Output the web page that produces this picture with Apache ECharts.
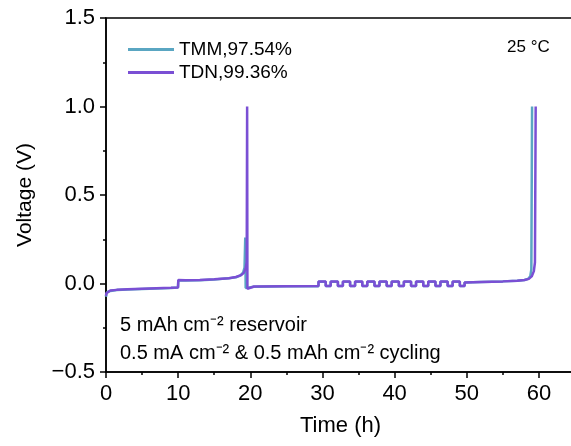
<!DOCTYPE html>
<html><head><meta charset="utf-8">
<script src="https://cdn.jsdelivr.net/npm/echarts@6/dist/echarts.min.js"></script>
<style>html,body{margin:0;padding:0;background:#fff}#c{width:571px;height:446px}</style>
</head><body><div id="c"></div>
<script>
// Time (h) and Voltage (V)
var tmmTime = [0,0.05,0.2,0.6,1.5,3,5,7,9,9.98,10.02,11,13,15,17,18,18.6,19.0,19.2,19.3,19.36,19.6,20.5,25,29.45,
  29.45,
  30.45,30.45,31.14,31.14,
  32.14,32.14,32.83,32.83,
  33.83,33.83,34.52,34.52,
  35.52,35.52,36.21,36.21,
  37.21,37.21,37.9,37.9,
  38.9,38.9,39.59,39.59,
  40.59,40.59,41.28,41.28,
  42.28,42.28,42.97,42.97,
  43.97,43.97,44.66,44.66,
  45.66,45.66,46.35,46.35,
  47.35,47.35,48.04,48.04,
  49.04,49.04,49.7,49.7,
  52,55,57,58,58.5,58.8,58.95,59.05];
var tmmVolt = [-0.075,-0.06,-0.048,-0.042,-0.037,-0.034,-0.031,-0.028,-0.025,-0.023,0.018,0.017,0.019,0.023,0.029,0.035,0.045,0.062,0.09,0.26,-0.025,-0.02,-0.018,-0.016,-0.015,
  0.01,
  0.01,-0.014,-0.014,0.01,
  0.01,-0.014,-0.014,0.01,
  0.01,-0.014,-0.014,0.01,
  0.01,-0.014,-0.014,0.01,
  0.01,-0.014,-0.014,0.01,
  0.01,-0.014,-0.014,0.01,
  0.01,-0.014,-0.014,0.01,
  0.01,-0.014,-0.014,0.01,
  0.01,-0.014,-0.014,0.01,
  0.01,-0.014,-0.014,0.01,
  0.01,-0.014,-0.014,0.01,
  0.01,-0.014,-0.014,0.005,
  0.008,0.012,0.016,0.02,0.026,0.04,0.08,1.0];
var tdnTime = [0,0.05,0.2,0.6,1.5,3,5,7,9,9.98,10.02,11,13,15,17,18,18.7,19.1,19.35,19.5,19.56,19.6,19.7,20.5,25,29.45,
  29.45,
  30.45,30.45,31.14,31.14,
  32.14,32.14,32.83,32.83,
  33.83,33.83,34.52,34.52,
  35.52,35.52,36.21,36.21,
  37.21,37.21,37.9,37.9,
  38.9,38.9,39.59,39.59,
  40.59,40.59,41.28,41.28,
  42.28,42.28,42.97,42.97,
  43.97,43.97,44.66,44.66,
  45.66,45.66,46.35,46.35,
  47.35,47.35,48.04,48.04,
  49.04,49.04,49.7,49.7,
  52,55,57,58,58.6,59.0,59.3,59.45,59.55];
var tdnVolt = [-0.07,-0.055,-0.045,-0.04,-0.036,-0.033,-0.03,-0.027,-0.024,-0.022,0.02,0.018,0.02,0.024,0.03,0.037,0.047,0.06,0.085,0.12,1.0,-0.03,-0.02,-0.017,-0.015,-0.014,
  0.011,
  0.011,-0.014,-0.014,0.011,
  0.011,-0.014,-0.014,0.011,
  0.011,-0.014,-0.014,0.011,
  0.011,-0.014,-0.014,0.011,
  0.011,-0.014,-0.014,0.011,
  0.011,-0.014,-0.014,0.011,
  0.011,-0.014,-0.014,0.011,
  0.011,-0.014,-0.014,0.011,
  0.011,-0.014,-0.014,0.011,
  0.011,-0.014,-0.014,0.011,
  0.011,-0.014,-0.014,0.011,
  0.011,-0.014,-0.014,0.005,
  0.008,0.012,0.016,0.02,0.026,0.04,0.07,0.12,1.0];
var seriesNames = ['TMM,97.54%','TDN,99.36%'];
var xTicks = [0,10,20,30,40,50,60];
var yTicks = [-0.5,0.0,0.5,1.0,1.5];

function pairs(t,v){var a=[];for(var i=0;i<t.length;i++)a.push([t[i],v[i]]);return a;}
var FONT='Liberation Sans';
var chart = echarts.init(document.getElementById('c'));
chart.setOption({
  animation:false,
  backgroundColor:'#fff',
  grid:{left:106,top:18,height:354,width:469,outerBoundsMode:'none',containLabel:false,show:true,borderColor:'#000',borderWidth:1.5,backgroundColor:'transparent'},
  legend:{left:123,top:35,orient:'vertical',itemWidth:46,itemHeight:3,itemGap:4,icon:'rect',
    textStyle:{fontFamily:FONT,fontSize:19,color:'#000'},
    data:seriesNames},
  xAxis:{type:'value',min:0,max:65,interval:10,
    name:'Time (h)',nameLocation:'middle',nameGap:43,nameTextStyle:{fontFamily:FONT,fontSize:22,color:'#000'},
    axisLine:{onZero:false,lineStyle:{color:'#000',width:1.5}},
    axisTick:{length:6,lineStyle:{color:'#000',width:1.5}},
    minorTick:{show:true,splitNumber:2,length:3,lineStyle:{color:'#000',width:1.5}},
    splitLine:{show:false},
    axisLabel:{fontFamily:FONT,fontSize:22,color:'#000',margin:11,
      formatter:function(v){return xTicks.indexOf(v)>=0?String(v):'';}}},
  yAxis:{type:'value',min:-0.5,max:1.5,interval:0.5,
    name:'Voltage (V)',nameLocation:'middle',nameGap:70,nameTextStyle:{fontFamily:FONT,fontSize:21,color:'#000'},
    axisLine:{show:true,onZero:false,lineStyle:{color:'#000',width:1.5}},
    axisTick:{show:true,length:6,lineStyle:{color:'#000',width:1.5}},
    minorTick:{show:true,splitNumber:2,length:3,lineStyle:{color:'#000',width:1.5}},
    splitLine:{show:false},
    axisLabel:{fontFamily:FONT,fontSize:22,color:'#000',margin:11,
      formatter:function(v){return v.toFixed(1).replace('-','\u2212');}}},
  series:[
    {name:seriesNames[0],type:'line',showSymbol:false,symbol:'none',data:pairs(tmmTime,tmmVolt),
      lineStyle:{color:'#5aa6c2',width:2.5},itemStyle:{color:'#5aa6c2'}},
    {name:seriesNames[1],type:'line',showSymbol:false,symbol:'none',data:pairs(tdnTime,tdnVolt),
      lineStyle:{color:'#7a4fd4',width:2.5},itemStyle:{color:'#7a4fd4'}}
  ],
  graphic:[
    {type:'text',left:507,top:39,style:{text:'25 \u00b0C',fontFamily:FONT,fontSize:17,fill:'#000'}},
    {type:'text',left:120,top:315,style:{text:'5 mAh cm\u207b\u00b2 reservoir',fontFamily:FONT,fontSize:20,fill:'#000'}},
    {type:'text',left:120,top:343,style:{text:'0.5 mA cm\u207b\u00b2 & 0.5 mAh cm\u207b\u00b2 cycling',fontFamily:FONT,fontSize:20,fill:'#000'}}
  ]
});
</script></body></html>
